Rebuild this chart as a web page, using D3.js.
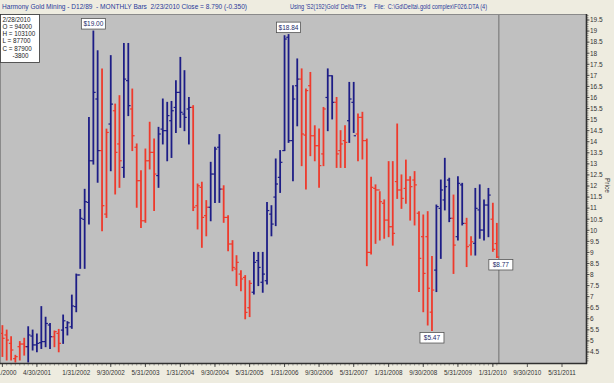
<!DOCTYPE html>
<html><head><meta charset="utf-8">
<script src="https://cdn.jsdelivr.net/npm/d3@7"></script>
<style>
body{margin:0;background:#EEECE0;}
svg{display:block;font-family:"Liberation Sans",Arial,sans-serif;}
text.pre{white-space:pre;}
</style>
</head><body>
<svg id="c" width="614" height="383"></svg>
<script>
// ---- data (monthly bars, Aug 2000 .. Feb 2010) ----
const startYear = 2000, startMonth = 7; // August 2000 (0-based month)
const highs = [5.69,5.49,5.19,4.35,4.97,5.12,5.64,5.49,5.31,6.55,
  6.07,5.79,5.45,5.52,6.17,5.87,7.07,8.02,10.94,11.85,
  15.10,19.00,18.11,17.29,14.57,17.89,15.70,16.08,18.44,18.44,
  16.38,13.90,12.69,13.67,14.88,14.12,14.65,15.93,15.78,15.82,
  16.76,17.81,17.21,16.00,15.63,12.09,12.17,11.34,13.07,13.75,
  14.32,12.01,10.66,9.53,8.85,8.17,7.95,7.72,9.00,9.00,
  9.00,11.26,11.11,13.22,13.60,18.79,18.84,16.53,17.74,17.29,
  16.38,17.13,14.72,14.57,15.55,17.29,16.98,16.00,14.50,14.72,
  16.68,16.68,15.25,15.33,14.12,12.39,12.05,11.74,11.37,13.10,
  13.10,14.80,12.50,13.17,12.42,12.65,10.84,10.69,10.84,8.81,
  11.14,12.27,13.25,12.35,11.59,12.42,12.12,10.54,9.71,11.89,
  12.05,11.37,11.89,11.22,10.31];
const lows = [4.30,4.14,4.14,4.05,4.14,4.36,4.05,4.59,4.51,4.66,
  4.74,4.66,4.74,4.51,4.89,5.27,5.57,6.32,8.28,8.28,
  10.28,12.99,12.17,9.98,10.58,12.69,11.64,11.94,12.39,15.18,
  13.60,11.04,10.13,10.36,12.77,10.89,11.94,13.90,13.14,13.29,
  14.42,14.65,14.50,13.90,10.89,10.06,9.23,9.75,10.43,11.26,
  11.26,10.36,9.08,8.17,7.50,7.27,6.00,6.10,7.12,7.50,
  7.20,7.57,9.75,10.21,11.71,13.60,13.97,12.24,14.72,12.92,
  11.86,13.37,13.14,11.94,12.92,14.50,15.03,12.84,12.84,12.84,
  13.97,14.42,13.14,13.22,8.40,8.93,9.41,9.56,9.64,9.71,
  9.33,11.44,10.99,11.22,10.46,10.24,7.23,6.32,5.72,5.47,
  7.23,8.73,10.92,10.39,8.05,9.56,10.24,8.36,8.88,8.88,
  9.64,9.56,9.71,9.05,8.77];
const opens = [5.34,5.27,4.89,4.20,4.74,4.86,4.74,5.22,4.82,4.92,
  4.97,5.72,5.19,5.34,5.49,5.60,5.64,6.55,7.98,10.49,
  11.26,13.14,15.93,13.60,10.73,14.80,15.40,13.90,12.84,16.76,
  15.48,13.75,12.24,10.43,13.14,13.52,12.47,14.57,14.50,14.95,
  15.55,16.23,15.25,15.48,15.55,11.11,11.94,10.66,11.04,12.54,
  13.75,11.86,10.58,9.38,8.25,8.02,7.87,6.50,7.20,8.63,
  7.65,7.72,10.73,11.50,12.39,13.60,18.72,14.05,16.53,16.83,
  14.30,16.53,14.27,13.82,13.45,16.00,16.98,15.78,13.60,14.05,
  14.95,15.78,14.35,15.10,14.05,9.00,11.89,11.82,11.22,10.46,
  10.16,12.20,11.82,11.89,12.27,12.27,10.77,9.71,9.71,6.30,
  8.20,10.99,11.37,12.27,10.54,9.71,12.05,10.31,9.33,9.41,
  10.92,10.01,11.14,10.50,9.40];
const closes = [5.12,5.04,4.59,4.29,4.86,4.74,5.27,4.82,4.89,4.97,
  5.79,5.19,5.42,4.89,5.91,5.82,6.58,7.98,10.54,11.29,
  13.14,16.23,13.60,11.11,14.42,15.70,13.52,13.14,16.83,15.63,
  14.27,12.24,10.43,13.14,13.52,12.54,14.35,14.50,15.18,15.40,
  16.23,15.33,15.10,15.55,11.04,12.01,10.58,11.04,12.54,13.67,
  11.86,10.58,9.38,8.32,8.55,7.80,6.29,7.60,8.55,8.32,
  8.02,10.89,10.28,12.09,13.07,18.64,14.05,15.93,16.83,14.35,
  16.31,14.27,13.82,12.92,15.48,16.98,15.78,13.45,13.90,13.97,
  15.93,14.27,15.10,14.05,9.00,11.94,11.82,11.29,10.46,10.16,
  9.86,11.82,11.44,12.27,11.97,12.05,8.73,8.05,7.38,7.30,
  11.07,11.82,11.97,10.54,9.33,12.12,10.31,9.26,9.48,10.99,
  10.01,11.14,11.59,9.14,8.79];
// trend phase per bar (U = blue, D = red)
const trend = "DDDDDD" + "UUUUUU" + "DD" + "UUUUUUUUU" + "DD" + "U" + "DD" + "UU" +
  "DDDDDD" + "UUUUUUUU" + "DDDD" + "UUU" + "DDDDDDD" + "UUUUUUUUUUU" + "DDDDDD" +
  "UU" + "DDD" + "UU" + "DDDDDDDDDDDDDDDDDD" + "UUUU" + "D" + "UU" + "DD" + "UUUU" + "DD";
const xTickLabels = ["8/31/2000","4/30/2001","1/31/2002","9/30/2002","5/31/2003","1/31/2004",
  "9/30/2004","5/31/2005","1/31/2006","9/30/2006","5/31/2007","1/31/2008","9/30/2008",
  "5/31/2009","1/31/2010","9/30/2010","5/31/2011"];
const yTickValues = [4.5,5,5.5,6,6.5,7,7.5,8,8.5,9,9.5,10,10.5,11,11.5,12,12.5,13,13.5,14,
  14.5,15,15.5,16,16.5,17,17.5,18,18.5,19,19.5];
const priceLabels = [{i:21, v:"$19.00", at:"high"}, {i:66, v:"$18.84", at:"high"},
  {i:99, v:"$5.47", at:"low"}, {i:114, v:"$8.77", at:"low", dx:4}];
const infoLines = ["2/28/2010","O = 94000","H = 103100","L = 87700","C = 87900","-3800"];
const headerLeft = "Harmony Gold Mining - D12/89  - MONTHLY Bars  2/23/2010 Close = 8.790 (-0.350)";
const headerMid = "Using 'S2(192)Gold' Delta TP's";
const headerRight = "File:  C:\\Gd\\Delta\\.gold complex\\F026.DTA (4)";

// ---- layout ----
const svg = d3.select("#c");
const plot = {l:0, t:14, r:586, b:363};
const parseD = d3.timeParse("%m/%d/%Y");
const x = d3.scaleTime().domain([parseD("8/31/2000"), parseD("5/31/2011")]).range([2.4, 562]);
const y = d3.scaleLinear().domain([4.5, 19.5]).range([352, 20]);
const bars = highs.map((h,i)=>({
  date: new Date(startYear, startMonth + i + 1, 0),
  h, l: lows[i], o: opens[i], c: closes[i], t: trend[i]
}));
const colU = "#1d1d86", colD = "#ee3a2c";

// background + header
svg.append("rect").attr("width",614).attr("height",383).attr("fill","#EEECE0");
const hdr = svg.append("g").attr("font-size",6.8).attr("fill","#2a3a9a");
hdr.append("text").attr("class","pre").attr("x",2).attr("y",9.3)
  .attr("textLength",245).attr("lengthAdjust","spacingAndGlyphs").text(headerLeft);
const ht = hdr.append("text").attr("class","pre").attr("x",290).attr("y",9.3)
  .attr("textLength",197).attr("lengthAdjust","spacingAndGlyphs");
ht.append("tspan").text(headerMid);
ht.append("tspan").attr("dx",10).text(headerRight);

// plot area
svg.append("rect").attr("x",plot.l).attr("y",plot.t).attr("width",plot.r-plot.l).attr("height",plot.b-plot.t)
  .attr("fill","#C0C0C0");
svg.append("clipPath").attr("id","pc").append("rect")
  .attr("x",plot.l).attr("y",plot.t).attr("width",plot.r-plot.l).attr("height",plot.b-plot.t);

// current date line
const lastX = x(bars[bars.length-1].date);
svg.append("line").attr("x1",lastX+2).attr("x2",lastX+2).attr("y1",plot.t).attr("y2",plot.b)
  .attr("stroke","#7c7c7c").attr("stroke-width",1.2);

// OHLC bars
const g = svg.append("g").attr("clip-path","url(#pc)");
const bg = g.selectAll("g.bar").data(bars).join("g").attr("class","bar")
  .attr("stroke",d=>d.t==="U"?colU:colD).attr("stroke-width",1.8);
bg.append("line").attr("x1",d=>x(d.date)).attr("x2",d=>x(d.date))
  .attr("y1",d=>y(d.h)-0.5).attr("y2",d=>y(d.l)+0.5);
bg.append("line").attr("x1",d=>x(d.date)-2.3).attr("x2",d=>x(d.date))
  .attr("y1",d=>y(d.o)).attr("y2",d=>y(d.o)).attr("stroke-width",1.2);
bg.append("line").attr("x1",d=>x(d.date)).attr("x2",d=>x(d.date)+2.3)
  .attr("y1",d=>y(d.c)).attr("y2",d=>y(d.c)).attr("stroke-width",1.2);

// frame
svg.append("line").attr("x1",plot.l).attr("x2",plot.r).attr("y1",plot.t+0.5).attr("y2",plot.t+0.5).attr("stroke","#8a8a8a");
svg.append("line").attr("x1",plot.l+0.5).attr("x2",plot.l+0.5).attr("y1",plot.t).attr("y2",plot.b).attr("stroke","#8a8a8a");
svg.append("line").attr("x1",plot.l).attr("x2",plot.r+1).attr("y1",plot.b+0.5).attr("y2",plot.b+0.5).attr("stroke","#303030").attr("stroke-width",1.6);
svg.append("line").attr("x1",plot.r+0.5).attr("x2",plot.r+0.5).attr("y1",plot.t).attr("y2",plot.b+1).attr("stroke","#303030").attr("stroke-width",1.6);

// right axis
const ya = svg.append("g").attr("font-size",6.5).attr("fill","#333");
d3.range(40, 198).forEach(k=>{
  const v = k/10; const yy = y(v);
  if (yy < plot.t+1 || yy > plot.b-1) return;
  ya.append("line").attr("x1",plot.r+1).attr("x2",plot.r+2.5).attr("y1",yy).attr("y2",yy)
    .attr("stroke","#444").attr("stroke-width",0.6);
});
yTickValues.forEach(v=>{
  ya.append("line").attr("x1",plot.r+1).attr("x2",plot.r+3.5).attr("y1",y(v)).attr("y2",y(v))
    .attr("stroke","#333").attr("stroke-width",0.8);
  ya.append("text").attr("x",plot.r+4).attr("y",y(v)+2.3).text(d3.format("")(v));
});
svg.append("text").attr("transform","translate(605,178) rotate(90)").attr("font-size",6.5)
  .attr("fill","#333").text("Price");

// bottom axis
const xa = svg.append("g");
bars.forEach(d=>{
  xa.append("line").attr("x1",x(d.date)).attr("x2",x(d.date)).attr("y1",plot.b+1).attr("y2",plot.b+2.5)
    .attr("stroke","#555").attr("stroke-width",0.6);
});
xTickLabels.forEach(s=>{
  const xx = x(parseD(s));
  xa.append("line").attr("x1",xx).attr("x2",xx).attr("y1",plot.b+1).attr("y2",plot.b+4)
    .attr("stroke","#333").attr("stroke-width",0.8);
  xa.append("text").attr("x",xx).attr("y",375).attr("text-anchor","middle")
    .attr("font-size",6.3).attr("fill","#333").text(s);
});

// info box
const ib = svg.append("g");
ib.append("rect").attr("x",0.5).attr("y",14.5).attr("width",39).attr("height",48)
  .attr("fill","#fff").attr("stroke","#333").attr("stroke-width",0.8);
infoLines.forEach((s,i)=>{
  ib.append("text").attr("x", i===5 ? 12.5 : 2.5).attr("y",21.5+i*7.3)
    .attr("font-size",6.3).attr("fill","#222").text(s);
});

// price labels
priceLabels.forEach(p=>{
  const d = bars[p.i];
  const cx = x(d.date) + (p.dx||0);
  const w = 24, h = 10.5;
  const top = p.at==="high" ? y(d.h) - h - 2 : y(d.l) + 2;
  svg.append("rect").attr("x",cx-w/2).attr("y",top).attr("width",w).attr("height",h)
    .attr("fill","#fff").attr("stroke","#555").attr("stroke-width",0.8);
  svg.append("text").attr("x",cx).attr("y",top+h/2+2.3).attr("text-anchor","middle")
    .attr("font-size",6.5).attr("fill","#1c2a6a").text(p.v);
});
</script>
</body></html>
